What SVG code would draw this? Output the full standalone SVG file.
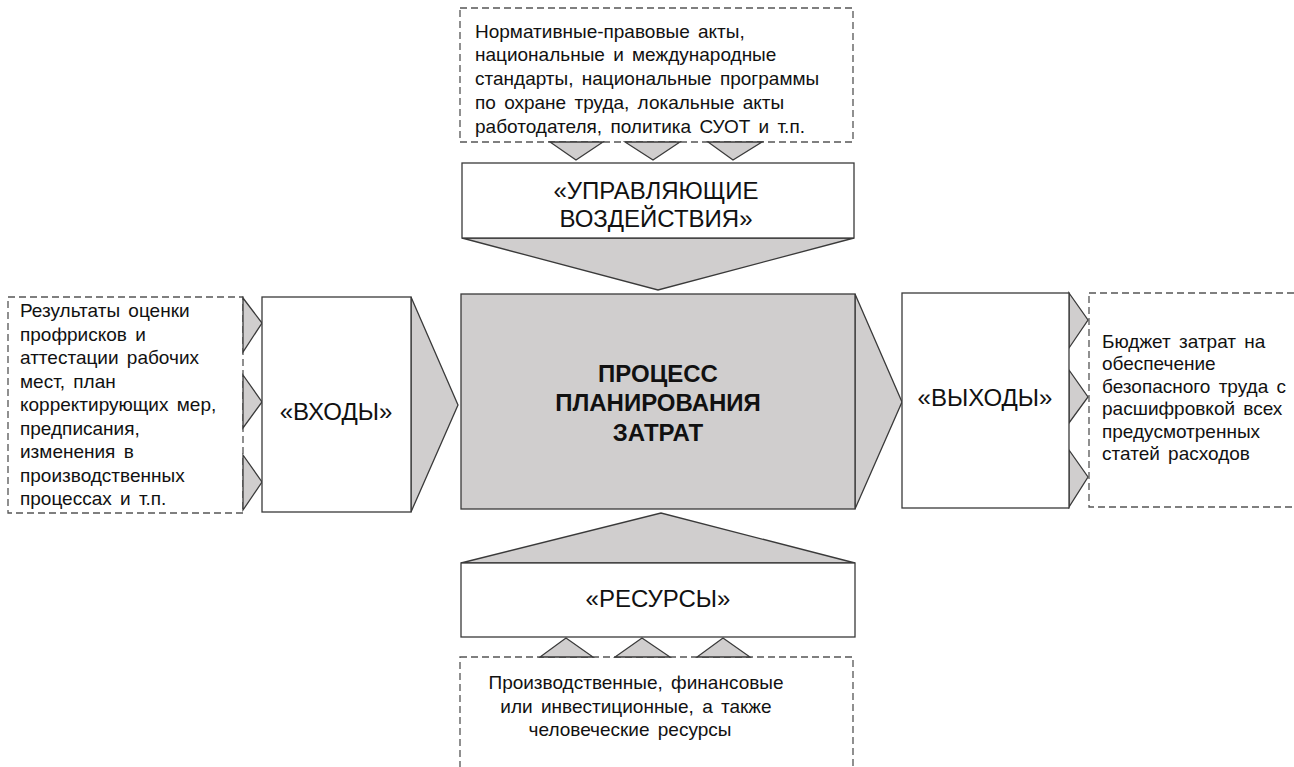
<svg xmlns="http://www.w3.org/2000/svg" width="1294" height="767" viewBox="0 0 1294 767">
<style>
.box{fill:#ffffff;stroke:#3a3a3a;stroke-width:1.3}
.core{fill:#d0cece;stroke:#3a3a3a;stroke-width:1.3}
.dash{fill:#ffffff;stroke:#555555;stroke-width:1.3;stroke-dasharray:7 4}
.arr{fill:#d0cece;stroke:#3a3a3a;stroke-width:1.3;stroke-linejoin:miter}
.t{font-family:"Liberation Sans",Arial,sans-serif;font-size:19px;fill:#111111;word-spacing:3px}
.big{font-family:"Liberation Sans",Arial,sans-serif;font-size:24px;fill:#111111;text-anchor:middle}
.bold{font-family:"Liberation Sans",Arial,sans-serif;font-size:24px;font-weight:bold;fill:#111111;text-anchor:middle}
</style>
<rect width="1294" height="767" fill="#ffffff"/>

<g id="control-source">
<rect class="dash" x="460" y="8" width="393" height="134"/>
<text class="t" x="475" y="38">Нормативные-правовые акты,</text>
<text class="t" x="475" y="61">национальные и международные</text>
<text class="t" x="475" y="85">стандарты, национальные программы</text>
<text class="t" x="475" y="109">по охране труда, локальные акты</text>
<text class="t" x="475" y="133">работодателя, политика СУОТ и т.п.</text>
</g>

<g id="input-source">
<rect class="dash" x="8" y="297" width="235" height="216"/>
<text class="t" x="20" y="317">Результаты оценки</text>
<text class="t" x="20" y="340.5">профрисков и</text>
<text class="t" x="20" y="364">аттестации рабочих</text>
<text class="t" x="20" y="387.5">мест, план</text>
<text class="t" x="20" y="411">корректирующих мер,</text>
<text class="t" x="20" y="434.5">предписания,</text>
<text class="t" x="20" y="458">изменения в</text>
<text class="t" x="20" y="481.5">производственных</text>
<text class="t" x="20" y="505">процессах и т.п.</text>
</g>

<g id="output-target">
<rect class="dash" x="1089" y="293" width="220" height="214"/>
<text class="t" x="1102" y="348">Бюджет затрат на</text>
<text class="t" x="1102" y="370">обеспечение</text>
<text class="t" x="1102" y="393">безопасного труда с</text>
<text class="t" x="1102" y="415">расшифровкой всех</text>
<text class="t" x="1102" y="438">предусмотренных</text>
<text class="t" x="1102" y="460">статей расходов</text>
</g>

<g id="resource-source">
<rect class="dash" x="460" y="657" width="393" height="130"/>
<text class="t" x="636" y="689" text-anchor="middle">Производственные, финансовые</text>
<text class="t" x="636" y="713" text-anchor="middle">или инвестиционные, а также</text>
<text class="t" x="630" y="736" text-anchor="middle">человеческие ресурсы</text>
</g>

<g id="connectors">
<polygon class="arr" points="550,142 603,142 576,160"/>
<polygon class="arr" points="625,142 680,142 653,160"/>
<polygon class="arr" points="708,142 762,142 733,160"/>
<polygon class="arr" points="462,238 854,238 658,290"/>
<polygon class="arr" points="243,298 262,323 243,352"/>
<polygon class="arr" points="243,375 262,402 243,428"/>
<polygon class="arr" points="243,455 262,482 243,510"/>
<polygon class="arr" points="411,297 458,405 411,512"/>
<polygon class="arr" points="855,294 902,402 855,509"/>
<polygon class="arr" points="1069,293 1088,320 1069,348"/>
<polygon class="arr" points="1069,370 1088,397 1069,423"/>
<polygon class="arr" points="1069,450 1088,477 1069,507"/>
<polygon class="arr" points="461,563 855,563 661,513"/>
<polygon class="arr" points="540,657 593,657 566,638"/>
<polygon class="arr" points="615,657 670,657 642,638"/>
<polygon class="arr" points="697,657 750,657 723,638"/>
</g>

<g id="control">
<rect class="box" x="462" y="163" width="392" height="75"/>
<text class="big" x="656" y="199">«УПРАВЛЯЮЩИЕ</text>
<text class="big" x="656" y="227">ВОЗДЕЙСТВИЯ»</text>
</g>

<g id="inputs">
<rect class="box" x="262" y="297" width="149" height="215"/>
<text class="big" x="336" y="420">«ВХОДЫ»</text>
</g>

<g id="process">
<rect class="core" x="461" y="294" width="394" height="215"/>
<text class="bold" x="658" y="382">ПРОЦЕСС</text>
<text class="bold" x="658" y="411">ПЛАНИРОВАНИЯ</text>
<text class="bold" x="658" y="441">ЗАТРАТ</text>
</g>

<g id="outputs">
<rect class="box" x="902" y="293" width="167" height="215"/>
<text class="big" x="985" y="406">«ВЫХОДЫ»</text>
</g>

<g id="resources">
<rect class="box" x="461" y="563" width="394" height="74"/>
<text class="big" x="658" y="607">«РЕСУРСЫ»</text>
</g>
</svg>
